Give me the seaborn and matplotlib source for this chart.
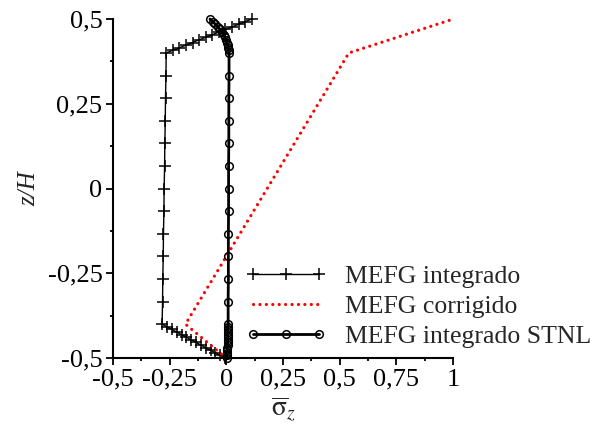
import numpy as np
import pandas as pd
import matplotlib
matplotlib.use('Agg')
import matplotlib.pyplot as plt
import seaborn as sns

# z/H positions: dense layer at the bottom, coarse in the middle, dense layer at the top
z_bottom = [-0.5, -0.4923, -0.4846, -0.4769, -0.4692, -0.4615, -0.4538,
            -0.4462, -0.4385, -0.4308, -0.4231, -0.4154, -0.4077, -0.4]
z_middle = [-0.3333, -0.2667, -0.2, -0.1333, -0.0667, 0.0,
            0.0667, 0.1333, 0.2, 0.2667, 0.3333]
z_top = [0.4, 0.4077, 0.4154, 0.4231, 0.4308, 0.4385, 0.4462,
         0.4538, 0.4615, 0.4692, 0.4769, 0.4846, 0.4923, 0.5]

# MEFG integrado
integ_bottom = [-0.005, -0.026, -0.048, -0.069, -0.091, -0.112, -0.133,
                -0.155, -0.176, -0.197, -0.219, -0.240, -0.262, -0.283]
integ_middle = [-0.281, -0.280, -0.278, -0.277, -0.275, -0.274,
                -0.272, -0.271, -0.269, -0.268, -0.266]
integ_top = [-0.265, -0.236, -0.207, -0.178, -0.149, -0.120, -0.091,
             -0.062, -0.033, -0.004, 0.025, 0.054, 0.083, 0.112]

# MEFG integrado STNL
stnl_bottom = [0.004, 0.004, 0.005, 0.005, 0.005, 0.006, 0.006,
               0.006, 0.006, 0.007, 0.007, 0.007, 0.008, 0.008]
stnl_middle = [0.008, 0.009, 0.009, 0.009, 0.010, 0.010,
               0.010, 0.011, 0.011, 0.011, 0.012]
stnl_top = [0.012, 0.011, 0.009, 0.006, 0.003, -0.001, -0.006,
            -0.011, -0.018, -0.027, -0.037, -0.048, -0.060, -0.072]

# MEFG corrigido
corr_z = [-0.5, -0.4, 0.4, 0.5]
corr_s = [0.0, -0.18, 0.54, 1.0]

xticks = [-0.5, -0.25, 0, 0.25, 0.5, 0.75, 1]
xtick_labels = ['-0,5', '-0,25', '0', '0,25', '0,5', '0,75', '1']
yticks = [-0.5, -0.25, 0, 0.25, 0.5]
ytick_labels = ['-0,5', '-0,25', '0', '0,25', '0,5']

z_all = z_bottom + z_middle + z_top
df_integ = pd.DataFrame({'s': integ_bottom + integ_middle + integ_top, 'z': z_all})
df_stnl = pd.DataFrame({'s': stnl_bottom + stnl_middle + stnl_top, 'z': z_all})
df_corr = pd.DataFrame({'s': corr_s, 'z': corr_z})

sns.set_style('ticks')
plt.rcParams['font.family'] = ['Liberation Serif', 'DejaVu Serif']
plt.rcParams['mathtext.fontset'] = 'stix'

fig = plt.figure(figsize=(5.94, 4.33), dpi=100)
ax = fig.add_axes([0.190, 0.173, 0.573, 0.783])

sns.lineplot(data=df_integ, x='s', y='z', sort=False, estimator=None, ax=ax,
             color='black', linewidth=1.0, marker='+', markersize=8,
             markeredgewidth=1.1, markeredgecolor='black',
             label='MEFG integrado', clip_on=False)
sns.lineplot(data=df_corr, x='s', y='z', sort=False, estimator=None, ax=ax,
             color='red', linewidth=2.3, linestyle=(0, (0.01, 2.0)),
             dash_capstyle='round', label='MEFG corrigido', clip_on=False)
sns.lineplot(data=df_stnl, x='s', y='z', sort=False, estimator=None, ax=ax,
             color='black', linewidth=2.0, marker='o', markersize=5.5,
             markerfacecolor='none', markeredgecolor='black',
             markeredgewidth=1.1, label='MEFG integrado STNL', clip_on=False)

ax.set_xlim(-0.5, 1)
ax.set_ylim(-0.5, 0.5)
ax.set_xticks(xticks)
ax.set_xticklabels(xtick_labels)
ax.set_yticks(yticks)
ax.set_yticklabels(ytick_labels)
ax.set_xticks([-0.375, -0.125, 0.125, 0.375, 0.625, 0.875], minor=True)
ax.set_yticks([-0.375, -0.125, 0.125, 0.375], minor=True)
ax.tick_params(which='major', direction='out', length=5, width=1.3, pad=2.5,
               labelsize=19, color='black', labelcolor='black')
ax.tick_params(which='minor', direction='out', length=2.5, width=1.3, color='black')
sns.despine(ax=ax)
for side in ['left', 'bottom']:
    ax.spines[side].set_linewidth(1.5)
    ax.spines[side].set_color('black')

ax.set_xlabel(r'$\overline{\mathrm{\sigma}}_z$', fontsize=20, labelpad=3)
ax.set_ylabel('z/H', fontsize=18, fontstyle='italic', labelpad=5)

ax.legend(loc='lower left', bbox_to_anchor=(0.388, 0.03), frameon=False,
          fontsize=18.5, numpoints=3, handlelength=3.2, handletextpad=0.7,
          labelspacing=0.27, borderpad=0, borderaxespad=0)

fig.savefig('out.png', dpi=100)
